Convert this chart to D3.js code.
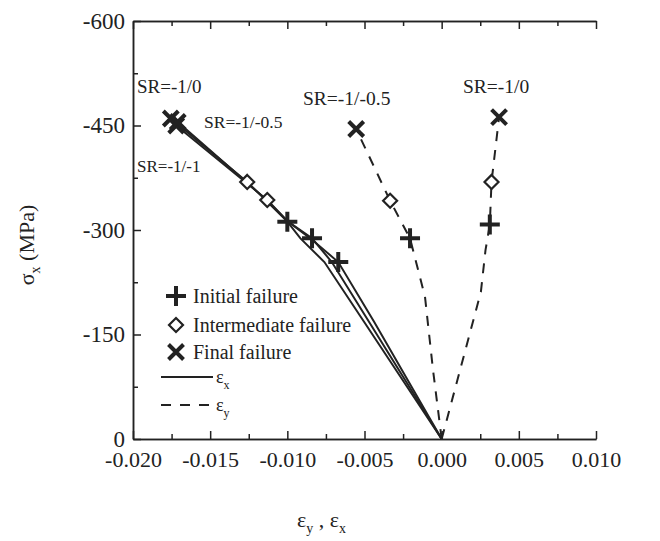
<!DOCTYPE html>
<html>
<head>
<meta charset="utf-8">
<script src="https://cdn.jsdelivr.net/npm/d3@7"></script>
<style>
  body { margin: 0; background: #fff; }
  svg text { font-family: "Liberation Serif", "Times New Roman", serif; fill: #222; }
  .axis path, .axis line { stroke: #222; stroke-width: 1.5; }
  .axis text { font-size: 22px; }
  .yaxis text { font-size: 23px; }
</style>
</head>
<body>
<div id="chart"></div>
<script>
// tick values
var xTicks = [-0.020, -0.015, -0.010, -0.005, 0, 0.005, 0.010];
var yTicks = [0, -150, -300, -450, -600];

// solid curves (strain x) for each stress ratio: [strain, stress]
var exSR10 = [[0, 0], [-0.00502, -168], [-0.00760, -254], [-0.00915, -288], [-0.0100, -312], [-0.0126, -369], [-0.01755, -460]];
var exSR105 = [[0, 0], [-0.00470, -168], [-0.00712, -254], [-0.0084, -288], [-0.0100, -313], [-0.0113, -343], [-0.0172, -450]];
var exSR11 = [[0, 0], [-0.00437, -168], [-0.0067, -254], [-0.0084, -286], [-0.0099, -311], [-0.0114, -344], [-0.0126, -368], [-0.0171, -455]];

// dashed curves (strain y)
var eySR105 = [[0, 0], [-0.00056, -99], [-0.00108, -204], [-0.00205, -288], [-0.00334, -342], [-0.00554, -445]];
var eySR10 = [[0, 0], [0.00254, -211], [0.00284, -271], [0.00312, -308], [0.00323, -369], [0.00372, -462]];

// failure markers
var initialFail = [[-0.0100, -312], [-0.0084, -288], [-0.0067, -254], [-0.00205, -288], [0.00312, -308]];
var interFail = [[-0.0126, -369], [-0.0113, -343], [-0.00334, -342], [0.00323, -369]];
var finalFail = [[-0.01755, -460], [-0.0172, -450], [-0.0171, -455], [-0.00554, -445], [0.00372, -462]];

var width = 660, height = 541;
var pLeft = 133, pRight = 596, pTop = 21, pBottom = 439;

var svg = d3.select("#chart").append("svg")
    .attr("width", width)
    .attr("height", height);

var x = d3.scaleLinear().domain([-0.02, 0.01]).range([pLeft, pRight]);
var y = d3.scaleLinear().domain([0, -600]).range([pBottom, pTop]);

var xMinor = [-0.0175, -0.0125, -0.0075, -0.0025, 0.0025, 0.0075];
var yMinor = [-75, -225, -375, -525];

// axes
svg.append("g").attr("class", "axis")
    .attr("transform", "translate(0," + pBottom + ")")
    .call(d3.axisBottom(x).tickValues(xTicks).tickSizeInner(-8).tickSizeOuter(0).tickPadding(12)
        .tickFormat(function(d) { return d.toFixed(3); }));
svg.append("g").attr("class", "axis")
    .attr("transform", "translate(0," + pBottom + ")")
    .call(d3.axisBottom(x).tickValues(xMinor).tickSizeInner(-5).tickSizeOuter(0).tickFormat(""));

svg.append("g").attr("class", "axis")
    .attr("transform", "translate(0," + pTop + ")")
    .call(d3.axisTop(x).tickValues(xTicks).tickSizeInner(-8).tickSizeOuter(0).tickFormat(""));
svg.append("g").attr("class", "axis")
    .attr("transform", "translate(0," + pTop + ")")
    .call(d3.axisTop(x).tickValues(xMinor).tickSizeInner(-5).tickSizeOuter(0).tickFormat(""));

svg.append("g").attr("class", "axis yaxis")
    .attr("transform", "translate(" + pLeft + ",0)")
    .call(d3.axisLeft(y).tickValues(yTicks).tickSizeInner(-8).tickSizeOuter(0).tickPadding(8)
        .tickFormat(function(d) { return String(d); }));
svg.append("g").attr("class", "axis")
    .attr("transform", "translate(" + pLeft + ",0)")
    .call(d3.axisLeft(y).tickValues(yMinor).tickSizeInner(-5).tickSizeOuter(0).tickFormat(""));

// lines
var line = d3.line()
    .x(function(d) { return x(d[0]); })
    .y(function(d) { return y(d[1]); });

[exSR10, exSR105, exSR11].forEach(function(s) {
    svg.append("path").datum(s)
        .attr("d", line)
        .attr("fill", "none")
        .attr("stroke", "#222")
        .attr("stroke-width", 2);
});
[eySR105, eySR10].forEach(function(s) {
    svg.append("path").datum(s)
        .attr("d", line)
        .attr("fill", "none")
        .attr("stroke", "#222")
        .attr("stroke-width", 2)
        .attr("stroke-dasharray", "10,9");
});

// marker shapes
function plusPath(r) { return "M" + (-r) + ",0H" + r + "M0," + (-r) + "V" + r; }
function crossPath(r) { return "M" + (-r) + "," + (-r) + "L" + r + "," + r + "M" + (-r) + "," + r + "L" + r + "," + (-r); }
function diamondPath(r) { return "M0," + (-r) + "L" + r + ",0L0," + r + "L" + (-r) + ",0Z"; }

function drawMarkers(data, pathStr, sw, fill) {
    svg.append("g").selectAll("path").data(data).enter().append("path")
        .attr("d", pathStr)
        .attr("transform", function(d) { return "translate(" + x(d[0]) + "," + y(d[1]) + ")"; })
        .attr("fill", fill)
        .attr("stroke", "#222")
        .attr("stroke-width", sw);
}
drawMarkers(initialFail, plusPath(10), 4, "none");
drawMarkers(interFail, diamondPath(7), 2.2, "#fff");
drawMarkers(finalFail, crossPath(7.5), 4, "none");

// curve labels
var labels = [
    {t: "SR=-1/0", x: 137, y: 93, s: 19},
    {t: "SR=-1/-0.5", x: 204, y: 128, s: 17.5},
    {t: "SR=-1/-1", x: 137, y: 172, s: 17},
    {t: "SR=-1/-0.5", x: 303, y: 105, s: 19.5},
    {t: "SR=-1/0", x: 463, y: 93, s: 19.5}
];
svg.append("g").selectAll("text").data(labels).enter().append("text")
    .attr("x", function(d) { return d.x; })
    .attr("y", function(d) { return d.y; })
    .style("font-size", function(d) { return d.s + "px"; })
    .text(function(d) { return d.t; });

// legend
var lg = svg.append("g");
lg.append("path").attr("d", plusPath(10)).attr("transform", "translate(176,296)")
    .attr("stroke", "#222").attr("stroke-width", 4).attr("fill", "none");
lg.append("path").attr("d", diamondPath(7)).attr("transform", "translate(176,325)")
    .attr("stroke", "#222").attr("stroke-width", 2.2).attr("fill", "#fff");
lg.append("path").attr("d", crossPath(7.5)).attr("transform", "translate(176,352)")
    .attr("stroke", "#222").attr("stroke-width", 4).attr("fill", "none");
var legendText = ["Initial failure", "Intermediate failure", "Final failure"];
lg.selectAll("text.lt").data(legendText).enter().append("text")
    .attr("class", "lt")
    .attr("x", 193)
    .attr("y", function(d, i) { return [303, 332, 359][i]; })
    .style("font-size", "20px")
    .text(function(d) { return d; });
lg.append("line").attr("x1", 161).attr("x2", 213).attr("y1", 377).attr("y2", 377)
    .attr("stroke", "#222").attr("stroke-width", 2);
lg.append("line").attr("x1", 161).attr("x2", 213).attr("y1", 405).attr("y2", 405)
    .attr("stroke", "#222").attr("stroke-width", 2).attr("stroke-dasharray", "10,9");
var ex = lg.append("text").attr("x", 216).attr("y", 383).style("font-size", "18px");
ex.append("tspan").text("ε");
ex.append("tspan").attr("dy", 6).style("font-size", "12px").text("x");
var ey = lg.append("text").attr("x", 216).attr("y", 411).style("font-size", "18px");
ey.append("tspan").text("ε");
ey.append("tspan").attr("dy", 6).style("font-size", "12px").text("y");

// axis titles
var yt = svg.append("text")
    .attr("transform", "translate(34,245) rotate(-90)")
    .attr("text-anchor", "middle")
    .style("font-size", "22px");
yt.append("tspan").text("σ");
yt.append("tspan").attr("dy", 6).style("font-size", "14px").text("x");
yt.append("tspan").attr("dy", -6).text("   (MPa)");

var xt = svg.append("text")
    .attr("x", 297).attr("y", 527)
    .style("font-size", "22px");
xt.append("tspan").text("ε");
xt.append("tspan").attr("dy", 6).style("font-size", "14px").text("y");
xt.append("tspan").attr("dy", -6).text(" , ε");
xt.append("tspan").attr("dy", 6).style("font-size", "14px").text("x");
</script>
</body>
</html>
